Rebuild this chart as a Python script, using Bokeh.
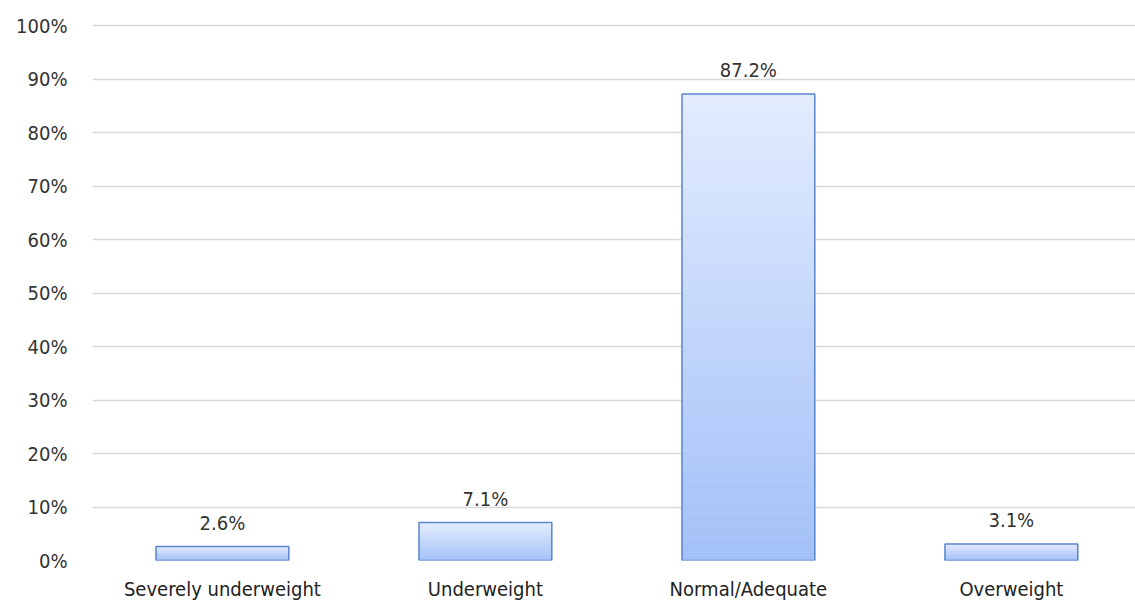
from bokeh.plotting import figure
from bokeh.models import ColumnDataSource, FixedTicker, Range1d
from bokeh.core.properties import value
from bokeh.embed import file_html
from bokeh.resources import INLINE

categories = ["Severely underweight", "Underweight", "Normal/Adequate", "Overweight"]
shares = [2.6, 7.1, 87.2, 3.1]
value_labels = ["2.6%", "7.1%", "87.2%", "3.1%"]
y_ticks = [0, 10, 20, 30, 40, 50, 60, 70, 80, 90, 100]
y_tick_labels = ["0%", "10%", "20%", "30%", "40%", "50%", "60%", "70%", "80%", "90%", "100%"]

FONT = "DejaVu Sans Condensed"
BAR_W = 0.505
TOP_RGB = (0xE3, 0xEC, 0xFE)
BOT_RGB = (0xA2, 0xC0, 0xF8)
N_STEPS = 60

xs = list(range(len(categories)))

p = figure(width=1135, height=603, output_backend="svg", toolbar_location=None,
           x_range=Range1d(-0.494, 3.472), y_range=Range1d(0, 100.4),
           min_border_left=92, min_border_right=0, min_border_top=23,
           min_border_bottom=43)
p.outline_line_color = None
p.background_fill_color = "white"
p.border_fill_color = "white"

# vertical gradient per bar: slices from bottom (darker) to top (lighter)
g_left, g_right, g_bottom, g_top, g_color = [], [], [], [], []
for x, v in zip(xs, shares):
    for i in range(N_STEPS):
        t = (i + 0.5) / N_STEPS
        r = round(BOT_RGB[0] + (TOP_RGB[0] - BOT_RGB[0]) * t)
        g = round(BOT_RGB[1] + (TOP_RGB[1] - BOT_RGB[1]) * t)
        b = round(BOT_RGB[2] + (TOP_RGB[2] - BOT_RGB[2]) * t)
        g_left.append(x - BAR_W / 2)
        g_right.append(x + BAR_W / 2)
        g_bottom.append(v * i / N_STEPS)
        g_top.append(v * (i + 1) / N_STEPS)
        g_color.append("#%02x%02x%02x" % (r, g, b))
p.quad(left=g_left, right=g_right, bottom=g_bottom, top=g_top,
       fill_color=g_color, line_color=g_color, line_width=0.5)

src = ColumnDataSource(dict(x=xs, top=shares, label=value_labels))
p.vbar(x="x", top="top", bottom=0, width=BAR_W, source=src,
       fill_alpha=0, line_color="#5A86CC", line_width=1.5)

p.text(x="x", y="top", text="label", source=src, text_align="center",
       text_baseline="bottom", y_offset=-12, text_font=value(FONT),
       text_font_size="20px", text_color="#333333")

# axes
p.yaxis.ticker = FixedTicker(ticks=y_ticks)
p.yaxis.major_label_overrides = {t: l for t, l in zip(y_ticks, y_tick_labels)}
p.yaxis.axis_line_color = None
p.yaxis.major_tick_line_color = None
p.yaxis.minor_tick_line_color = None
p.yaxis.major_label_standoff = 19
p.yaxis.major_label_text_font = FONT
p.yaxis.major_label_text_font_size = "20px"
p.yaxis.major_label_text_color = "#333333"

p.xaxis.ticker = FixedTicker(ticks=xs)
p.xaxis.major_label_overrides = {x: c for x, c in zip(xs, categories)}
p.xaxis.axis_line_color = None
p.xaxis.major_tick_line_color = None
p.xaxis.minor_tick_line_color = None
p.xaxis.major_label_standoff = 10
p.xaxis.major_label_text_font = FONT
p.xaxis.major_label_text_font_size = "20px"
p.xaxis.major_label_text_color = "#222222"

p.xgrid.grid_line_color = None
p.ygrid.grid_line_color = "#D9D9D9"
p.ygrid.grid_line_width = 1.5

open("out.html", "w").write(file_html(p, INLINE))
